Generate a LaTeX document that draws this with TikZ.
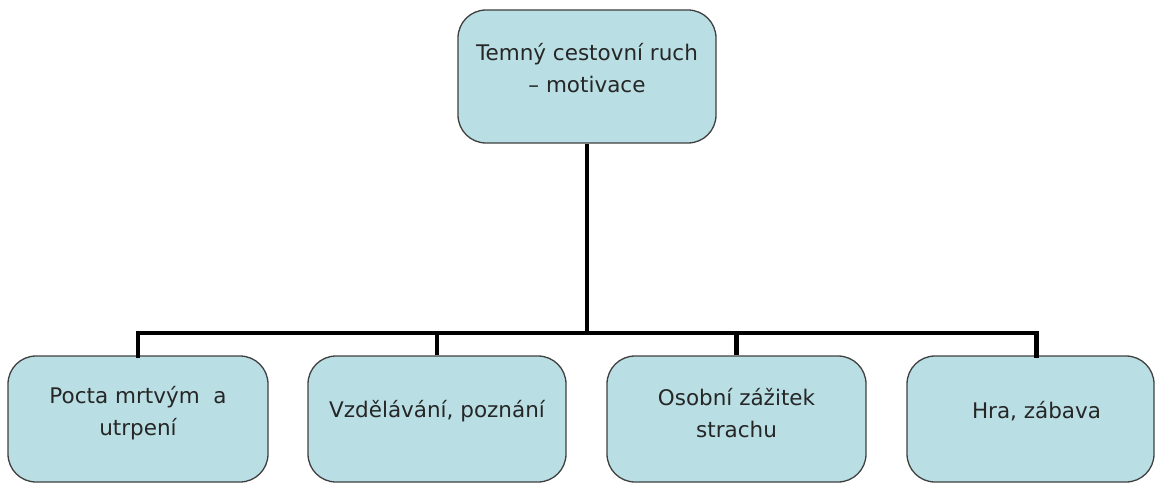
\documentclass[tikz,border=0pt]{standalone}
\usepackage{fontspec}
\setmainfont{DejaVu Sans}
\definecolor{boxfill}{RGB}{185,223,228}
\definecolor{boxline}{RGB}{64,64,64}
\begin{document}
\begin{tikzpicture}[x=1pt,y=-1pt,
  box/.style={draw=boxline,line width=1.3pt,fill=boxfill,rounded corners=28pt,
    minimum height=126pt,inner sep=0pt},
  txt/.style={font=\fontsize{21.5}{32}\selectfont,align=center,text=black!85},
  conn/.style={line width=4.5pt,black}]
\useasboundingbox (0,0) rectangle (1155,484);
\node[box,minimum width=258pt,minimum height=133pt,
  label={[txt,yshift=8pt]center:Temný cestovní ruch\\– motivace}] (t) at (587,76.5) {};
\node[box,minimum width=260pt,
  label={[txt,yshift=6pt]center:Pocta mrtvým\ \ a\\utrpení}] (b1) at (138,419) {};
\node[box,minimum width=258pt,
  label={[txt,yshift=8pt]center:Vzdělávání, poznání}] (b2) at (437,419) {};
\node[box,minimum width=259pt,
  label={[txt,yshift=6pt]center:Osobní zážitek\\strachu}] (b3) at (736.5,419) {};
\node[box,minimum width=247pt,label={[txt,yshift=8pt,xshift=6pt]center:Hra, zábava}] (b4) at (1030.5,419) {};
\coordinate (bar) at (587,333);
\draw[conn] (t.south) -- (bar);
\draw[conn,line cap=rect] (b1.north -| 138,0) |- (bar) -| ([xshift=6pt]b4.north);
\draw[conn] (b2.north) -- (b2.north |- bar);
\draw[conn] (b3.north) -- (b3.north |- bar);
\end{tikzpicture}
\end{document}
